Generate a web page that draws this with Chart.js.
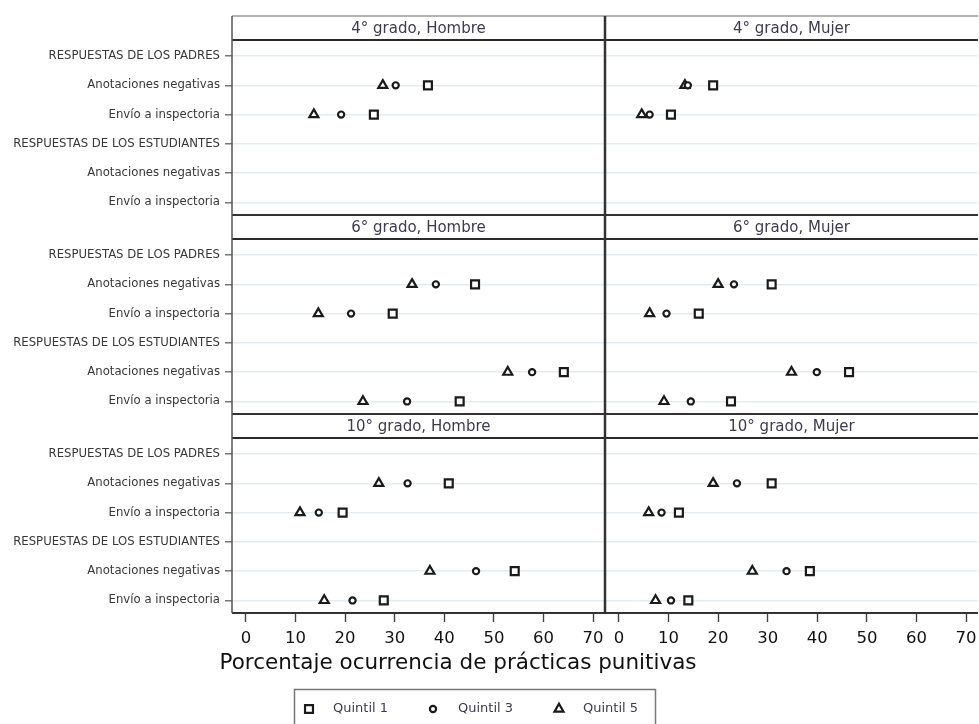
<!DOCTYPE html>
<html lang="es">
<head>
<meta charset="utf-8">
<title>Prácticas punitivas por quintil</title>
<script src="https://cdn.jsdelivr.net/npm/chart.js@4/dist/chart.umd.min.js"></script>
<style>
  html, body { margin: 0; padding: 0; background: #fff; }
  #grafico { display: block; }
</style>
</head>
<body>
<canvas id="grafico" width="979" height="724"></canvas>
<script>
"use strict";

// Categorías del eje vertical (se repiten en las seis celdas)
const categorias = [
    'RESPUESTAS DE LOS PADRES',
    'Anotaciones negativas',
    'Envío a inspectoria',
    'RESPUESTAS DE LOS ESTUDIANTES',
    'Anotaciones negativas',
    'Envío a inspectoria'
];
// fila de la categoría que corresponde a cada valor de las series
const filasConDato = [1, 2, 4, 5];
const titulosPanel = [
    '4° grado, Hombre', '4° grado, Mujer',
    '6° grado, Hombre', '6° grado, Mujer',
    '10° grado, Hombre', '10° grado, Mujer'
];
const quintiles = ['Quintil 1', 'Quintil 3', 'Quintil 5'];
const ticksX = [0, 10, 20, 30, 40, 50, 60, 70];

// Porcentajes: [anot. padres, envío padres, anot. estudiantes, envío estudiantes]
const hombre4_q1 = [36.7, 25.8, null, null];
const hombre4_q3 = [30.2, 19.2, null, null];
const hombre4_q5 = [27.6, 13.7, null, null];
const mujer4_q1 = [19.0, 10.5, null, null];
const mujer4_q3 = [13.9, 6.2, null, null];
const mujer4_q5 = [13.3, 4.6, null, null];
const hombre6_q1 = [46.2, 29.6, 64.1, 43.1];
const hombre6_q3 = [38.3, 21.2, 57.7, 32.5];
const hombre6_q5 = [33.5, 14.6, 52.8, 23.6];
const mujer6_q1 = [30.8, 16.1, 46.4, 22.6];
const mujer6_q3 = [23.2, 9.6, 39.9, 14.5];
const mujer6_q5 = [20.0, 6.2, 34.8, 9.1];
const hombre10_q1 = [40.9, 19.5, 54.2, 27.8];
const hombre10_q3 = [32.6, 14.7, 46.4, 21.5];
const hombre10_q5 = [26.8, 10.9, 37.1, 15.8];
const mujer10_q1 = [30.8, 12.1, 38.5, 14.0];
const mujer10_q3 = [23.8, 8.6, 33.8, 10.5];
const mujer10_q5 = [19.0, 6.0, 26.9, 7.4];

// orden de los paneles: fila por fila, Hombre a la izquierda
const seriesPanel = [
    [hombre4_q1, hombre4_q3, hombre4_q5],
    [mujer4_q1, mujer4_q3, mujer4_q5],
    [hombre6_q1, hombre6_q3, hombre6_q5],
    [mujer6_q1, mujer6_q3, mujer6_q5],
    [hombre10_q1, hombre10_q3, hombre10_q5],
    [mujer10_q1, mujer10_q3, mujer10_q5]
];

// marcadores de cada quintil
const estiloMarcador = ['rect', 'circle', 'triangle'];
const radioMarcador = [5.6, 3.1, 5.2];
const COLOR_MARCA = '#1a1a1a';

const FUENTE = '"DejaVu Sans", Verdana, sans-serif';
// rango de cada eje vertical; la franja del título ocupa de MIN_Y a LIMITE_CABECERA
const MIN_Y = -1.37;
const MAX_Y = 5.43;
const LIMITE_CABECERA = -0.55;

const datasets = [];
seriesPanel.forEach((series, p) => {
    const fila = Math.floor(p / 2);
    const col = p % 2;
    series.forEach((valores, q) => {
        const puntos = [];
        valores.forEach((v, i) => {
            if (v !== null) {
                puntos.push({ x: v, y: filasConDato[i] });
            }
        });
        datasets.push({
            label: quintiles[q],
            data: puntos,
            xAxisID: 'x' + col,
            yAxisID: 'y' + fila,
            showLine: false,
            pointStyle: estiloMarcador[q],
            pointRadius: radioMarcador[q],
            pointHoverRadius: radioMarcador[q],
            pointBorderWidth: 2.2,
            pointBackgroundColor: '#ffffff',
            pointBorderColor: COLOR_MARCA
        });
    });
});

// eje vertical de una fila de paneles
function ejeFila(peso) {
    return {
        type: 'linear',
        position: 'left',
        stack: 'filas',
        stackWeight: 1,
        weight: peso,
        reverse: true,
        min: MIN_Y,
        max: MAX_Y,
        afterBuildTicks: scale => {
            scale.ticks = categorias.map((c, i) => ({ value: i }));
        },
        afterFit: scale => {
            scale.width = 232;
            scale.paddingTop = 0;
            scale.paddingBottom = 0;
        },
        ticks: {
            autoSkip: false,
            padding: 5,
            color: '#383838',
            font: { family: FUENTE, size: 11.7 },
            callback: value => categorias[value]
        },
        grid: {
            color: '#e3edf1',
            lineWidth: 1.6,
            drawTicks: true,
            tickLength: 7,
            tickColor: '#555555',
            tickWidth: 1.2
        },
        border: { display: false }
    };
}

// eje horizontal de una columna de paneles
function ejeColumna() {
    return {
        type: 'linear',
        position: 'bottom',
        stack: 'columnas',
        stackWeight: 1,
        min: -2.8,
        max: 72.4,
        afterBuildTicks: scale => {
            scale.ticks = ticksX.map(v => ({ value: v }));
        },
        afterFit: scale => {
            // sin margen extra por las etiquetas de los extremos
            scale.height = 111;
            scale.paddingLeft = 0;
            scale.paddingRight = 0;
        },
        ticks: {
            autoSkip: false,
            maxRotation: 0,
            padding: 7,
            color: '#111111',
            font: { family: FUENTE, size: 16.5 }
        },
        grid: {
            drawOnChartArea: false,
            drawTicks: true,
            tickLength: 9,
            tickColor: '#444444',
            tickWidth: 1.4
        },
        border: { display: false }
    };
}

function linea(ctx, x1, y1, x2, y2, color, ancho) {
    ctx.strokeStyle = color;
    ctx.lineWidth = ancho;
    ctx.beginPath();
    ctx.moveTo(x1, y1);
    ctx.lineTo(x2, y2);
    ctx.stroke();
}

// marcos, franjas de título, título del eje y leyenda
const marcoPaneles = {
    id: 'marcoPaneles',
    afterDatasetsDraw(chart) {
        const ctx = chart.ctx;
        const area = chart.chartArea;
        const columnas = [chart.scales.x0, chart.scales.x1];
        const filas = [chart.scales.y0, chart.scales.y1, chart.scales.y2];
        ctx.save();
        ctx.font = '15px ' + FUENTE;
        ctx.textAlign = 'center';
        ctx.textBaseline = 'middle';
        filas.forEach((ey, r) => {
            const limite = ey.getPixelForValue(LIMITE_CABECERA);
            columnas.forEach((ex, c) => {
                ctx.fillStyle = '#3c3c4e';
                ctx.fillText(titulosPanel[r * 2 + c], (ex.left + ex.right) / 2, (ey.top + limite) / 2 + 1);
            });
            linea(ctx, area.left, limite, area.right, limite, '#2a2a2a', 2);
            linea(ctx, area.left, ey.bottom, area.right, ey.bottom, '#333333', 2);
        });
        linea(ctx, area.left, area.top, area.right, area.top, '#b4b4b4', 2);
        linea(ctx, area.left, area.top, area.left, area.bottom, '#555555', 1.5);
        linea(ctx, columnas[0].right, area.top, columnas[0].right, area.bottom, '#333333', 2.5);
        ctx.restore();
    },
    afterDraw(chart) {
        const ctx = chart.ctx;
        ctx.save();
        // título del eje horizontal
        ctx.fillStyle = '#111111';
        ctx.font = '21.5px ' + FUENTE;
        ctx.textAlign = 'center';
        ctx.textBaseline = 'alphabetic';
        ctx.fillText('Porcentaje ocurrencia de prácticas punitivas', 458, 669);

        // leyenda
        ctx.strokeStyle = '#777777';
        ctx.lineWidth = 1.5;
        ctx.strokeRect(294.5, 689.5, 361, 50);
        const xMarca = [309, 433, 559];
        const xTexto = [333, 458, 583];
        ctx.font = '13px ' + FUENTE;
        ctx.textAlign = 'left';
        ctx.textBaseline = 'middle';
        quintiles.forEach((q, i) => {
            ctx.fillStyle = '#ffffff';
            ctx.strokeStyle = COLOR_MARCA;
            ctx.lineWidth = 2.2;
            Chart.helpers.drawPoint(ctx, {
                pointStyle: estiloMarcador[i],
                radius: radioMarcador[i],
                borderWidth: 2.2,
                rotation: 0
            }, xMarca[i], 709);
            ctx.fillStyle = '#3b3b4e';
            ctx.fillText(q, xTexto[i], 709);
        });
        ctx.restore();
    }
};

const ctx = document.getElementById('grafico');
new Chart(ctx, {
    type: 'scatter',
    data: { datasets: datasets },
    options: {
        responsive: false,
        animation: false,
        layout: {
            // sin margen automático por el tamaño de los marcadores
            autoPadding: false,
            padding: { top: 16, right: 1, left: 0, bottom: 0 }
        },
        plugins: {
            legend: { display: false },
            tooltip: { enabled: false }
        },
        scales: {
            y0: ejeFila(3),
            y1: ejeFila(2),
            y2: ejeFila(1),
            x0: ejeColumna(),
            x1: ejeColumna()
        }
    },
    plugins: [marcoPaneles]
});
</script>
</body>
</html>
